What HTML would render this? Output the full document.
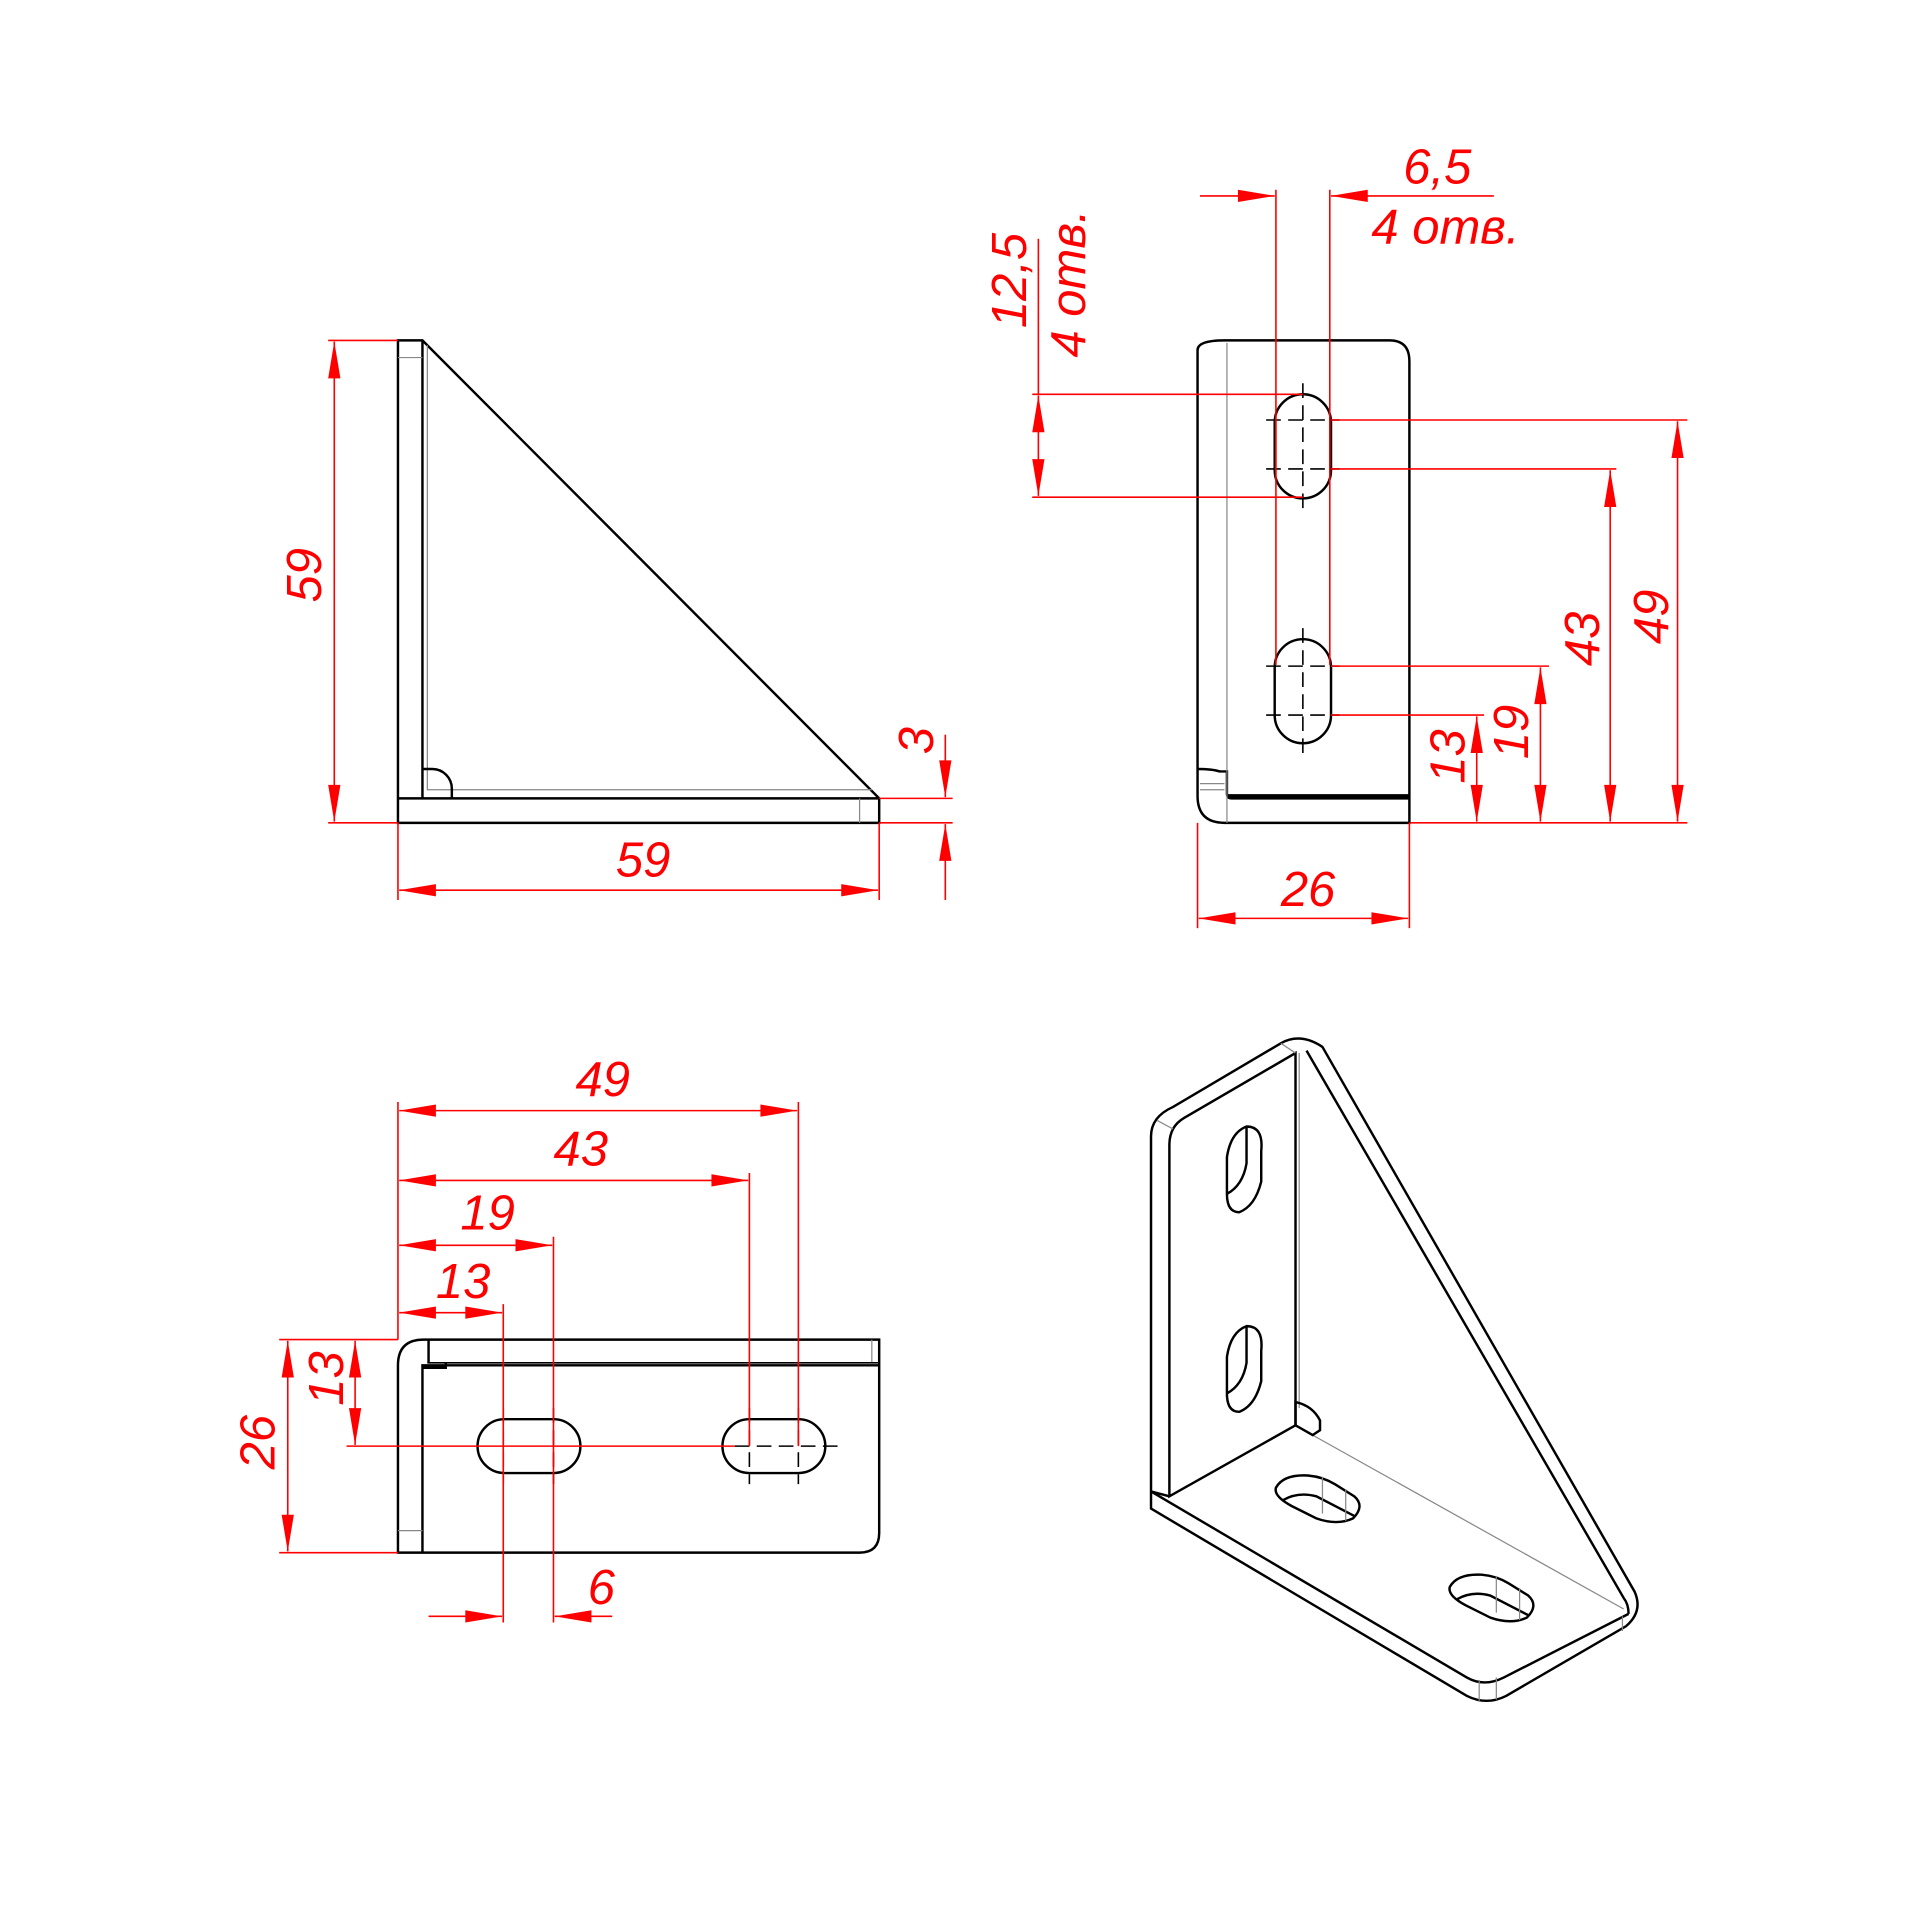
<!DOCTYPE html>
<html><head><meta charset="utf-8"><style>html,body{margin:0;padding:0;background:#fff}svg{display:block}</style></head>
<body>
<svg xmlns="http://www.w3.org/2000/svg" width="1920" height="1920" viewBox="0 0 1568 1568">
<defs>
<marker id="a" markerUnits="userSpaceOnUse" markerWidth="40" markerHeight="14" viewBox="-32 -7 34 14" refX="0" refY="0" orient="auto-start-reverse"><path d="M0,0 L-30,-5 L-30,5 Z" fill="#f00"/></marker>
</defs>
<style>
.k{fill:none;stroke:#000;stroke-width:2}
.g{fill:none;stroke:#888;stroke-width:1}
.r{fill:none;stroke:#f00;stroke-width:1.3}
.d{fill:none;stroke:#f00;stroke-width:1.3;marker-start:url(#a);marker-end:url(#a)}
.e{fill:none;stroke:#f00;stroke-width:1.3;marker-end:url(#a)}
.c{fill:none;stroke:#000;stroke-width:1.3;stroke-dasharray:12 6}
text{font-family:"Liberation Sans",sans-serif;font-style:italic;font-size:40px;fill:#f00}
</style>

<!-- TOP LEFT VIEW -->
<path class="k" d="M325,278 H345 L718,652 V672 H325 Z M345,278 V652 M325,652 H718"/>
<path class="g" d="M349,282 V645 H712 M702,652 V672 M325,292 H345"/>
<path class="k" d="M345,628 h8 a16,16 0 0 1 16,16 v8"/>
<line class="r" x1="268" y1="278" x2="325" y2="278"/>
<line class="r" x1="268" y1="672" x2="325" y2="672"/>
<line class="d" x1="273" y1="279" x2="273" y2="671"/>
<text transform="translate(262,492) rotate(-90)">59</text>
<line class="r" x1="325" y1="672" x2="325" y2="735"/>
<line class="r" x1="718" y1="672" x2="718" y2="735"/>
<line class="d" x1="326" y1="727" x2="717" y2="727"/>
<text x="503" y="716">59</text>
<line class="r" x1="718" y1="652" x2="778" y2="652"/>
<line class="r" x1="718" y1="672" x2="778" y2="672"/>
<line class="e" x1="772" y1="600" x2="772" y2="651"/>
<line class="e" x1="772" y1="735" x2="772" y2="673"/>
<text transform="translate(762,616) rotate(-90)">3</text>

<!-- TOP RIGHT VIEW -->
<path class="k" d="M978,286 Q978,278 1000,278 H1135 Q1151,278 1151,295 V672 H1000 Q978,672 978,650 Z"/>
<path class="k" d="M978,628 Q990,628 996,630 H1002 V648 Q1002,652 1006,652 H1151" />
<line x1="1002" y1="650" x2="1151" y2="650" stroke="#000" stroke-width="3"/>
<path class="g" d="M1002,280 V672 M980,640 H1000 M980,645 H1000"/>
<rect class="k" x="1041" y="322" width="46" height="85" rx="23"/>
<rect class="k" x="1041" y="522" width="46" height="85" rx="23"/>
<path class="c" d="M1064,313 V415 M1034,343 H1094 M1034,383 H1094 M1064,513 V615 M1034,544 H1094 M1034,584 H1094"/>
<line class="r" x1="1042" y1="155" x2="1042" y2="543"/>
<line class="r" x1="1086" y1="155" x2="1086" y2="543"/>
<line class="e" x1="980" y1="160" x2="1041" y2="160"/>
<line class="e" x1="1220" y1="160" x2="1087" y2="160"/>
<text x="1146" y="150">6,5</text>
<text x="1120" y="199">4 отв.</text>
<line class="r" x1="843" y1="322" x2="1064" y2="322"/>
<line class="r" x1="843" y1="406" x2="1064" y2="406"/>
<line class="r" x1="848" y1="195" x2="848" y2="322"/>
<line class="d" x1="848" y1="323" x2="848" y2="405"/>
<text transform="translate(838,268) rotate(-90)">12,5</text>
<text transform="translate(886,292) rotate(-90)">4 отв.</text>
<line class="r" x1="1087" y1="343" x2="1378" y2="343"/>
<line class="r" x1="1087" y1="383" x2="1320" y2="383"/>
<line class="r" x1="1087" y1="544" x2="1265" y2="544"/>
<line class="r" x1="1087" y1="584" x2="1212" y2="584"/>
<line class="r" x1="1151" y1="672" x2="1378" y2="672"/>
<line class="d" x1="1370" y1="344" x2="1370" y2="671"/>
<line class="d" x1="1315" y1="384" x2="1315" y2="671"/>
<line class="d" x1="1258" y1="545" x2="1258" y2="671"/>
<line class="d" x1="1206" y1="585" x2="1206" y2="671"/>
<text transform="translate(1362,526) rotate(-90)">49</text>
<text transform="translate(1306,544) rotate(-90)">43</text>
<text transform="translate(1248,620) rotate(-90)">19</text>
<text transform="translate(1196,640) rotate(-90)">13</text>
<line class="r" x1="978" y1="672" x2="978" y2="758"/>
<line class="r" x1="1151" y1="672" x2="1151" y2="758"/>
<line class="d" x1="979" y1="750" x2="1150" y2="750"/>
<text x="1046" y="740">26</text>

<!-- BOTTOM LEFT VIEW -->
<path class="k" d="M325,1115 Q325,1094 346,1094 H718 V1252 Q718,1268 702,1268 H325 Z"/>
<path class="k" d="M345,1268 V1115 H718 M350,1094 V1113 M345,1117 H364 V1113"/>
<path class="g" d="M712,1094 V1113 M325,1250 H345"/>
<line x1="349" y1="1113" x2="718" y2="1113" stroke="#000" stroke-width="1.3"/>
<rect class="k" x="390" y="1159" width="84" height="44" rx="22"/>
<rect class="k" x="590" y="1159" width="84" height="44" rx="22"/>
<path class="c" d="M411,1150 V1212 M452,1150 V1212 M612,1150 V1212 M652,1150 V1212 M600,1181 H684"/>
<line class="r" x1="325" y1="900" x2="325" y2="1094"/>
<line class="r" x1="652" y1="900" x2="652" y2="1181"/>
<line class="r" x1="612" y1="958" x2="612" y2="1181"/>
<line class="r" x1="452" y1="1010" x2="452" y2="1325"/>
<line class="r" x1="411" y1="1065" x2="411" y2="1325"/>
<line class="d" x1="326" y1="907" x2="651" y2="907"/>
<line class="d" x1="326" y1="964" x2="611" y2="964"/>
<line class="d" x1="326" y1="1017" x2="451" y2="1017"/>
<line class="d" x1="326" y1="1072" x2="410" y2="1072"/>
<text x="470" y="895">49</text>
<text x="452" y="952">43</text>
<text x="376" y="1004">19</text>
<text x="356" y="1060">13</text>
<line class="r" x1="228" y1="1094" x2="325" y2="1094"/>
<line class="r" x1="283" y1="1181" x2="600" y2="1181"/>
<line class="r" x1="228" y1="1268" x2="325" y2="1268"/>
<line class="d" x1="235" y1="1095" x2="235" y2="1267"/>
<line class="d" x1="290" y1="1095" x2="290" y2="1180"/>
<text transform="translate(224,1200) rotate(-90)">26</text>
<text transform="translate(280,1148) rotate(-90)">13</text>
<line class="e" x1="350" y1="1320" x2="410" y2="1320"/>
<line class="e" x1="500" y1="1320" x2="453" y2="1320"/>
<text x="480" y="1310">6</text>

<!-- ISO VIEW -->
<path class="k" d="M940,1232 V928 Q940,912 958,904 L1046,852 Q1062,843 1080,855 L1335,1300 Q1342,1316 1328,1328 L1230,1385 Q1214,1393 1198,1385 L940,1232 Z"/>
<path class="k" d="M955,1222 V935 Q955,920 967,913 L1058,860 V1164 Z M1067,858 L1326,1305 Q1330,1310 1330,1318 M940,1218 L955,1222 M940,1218 L1198,1370 Q1212,1378 1228,1370 L1330,1318"/>
<path class="g" d="M1061,860 V1150 M1072,1172 L1326,1314 M1208,1372 V1390 M1222,1370 V1388 M1325,1320 V1332 M945,915 L958,922 M1046,852 L1058,860"/>
<path class="k" d="M1058,1145 Q1072,1148 1078,1160 V1168 L1072,1172 L1058,1164 Z"/>
<path class="k" d="M1002,975 V945 Q1005,925 1018,920 Q1032,920 1030,940 V965 Q1025,985 1012,990 Q1002,990 1002,975 Z M1018,920 V950 Q1015,968 1002,975"/>
<path class="k" d="M1002,1138 V1108 Q1005,1088 1018,1083 Q1032,1083 1030,1103 V1128 Q1025,1148 1012,1153 Q1002,1153 1002,1138 Z M1018,1083 V1113 Q1015,1131 1002,1138"/>
<path class="k" d="M1042,1215 Q1048,1204 1068,1205 Q1080,1206 1090,1212 L1106,1222 Q1115,1230 1105,1240 Q1092,1246 1075,1240 L1055,1230 Q1040,1222 1042,1215 Z M1048,1225 Q1060,1218 1075,1222 L1106,1238"/>
<path class="k" d="M1184,1296 Q1190,1285 1210,1286 Q1222,1287 1232,1293 L1248,1303 Q1257,1311 1247,1321 Q1234,1327 1217,1321 L1197,1311 Q1182,1303 1184,1296 Z M1190,1306 Q1202,1299 1217,1303 L1248,1319"/>
<path class="g" d="M1080,1206 V1236 M1099,1216 V1242 M1222,1287 V1317 M1241,1297 V1323"/>
</svg>
</body></html>
